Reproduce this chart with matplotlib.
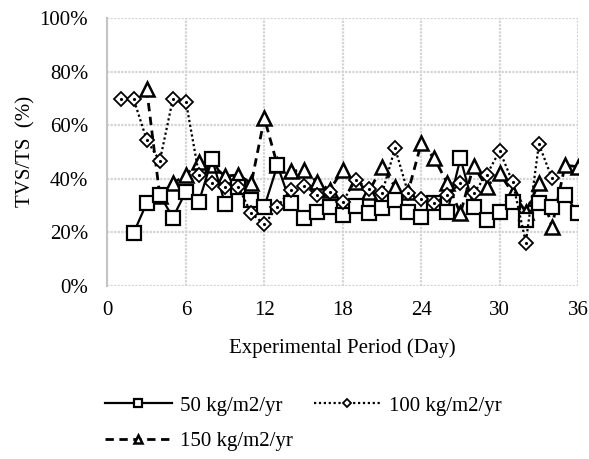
import matplotlib
matplotlib.use("Agg")
import matplotlib.pyplot as plt
from matplotlib.ticker import PercentFormatter

plt.rcParams['font.family'] = ['Liberation Serif', 'DejaVu Serif']

# TVS/TS (%) per day
days_50 = list(range(2, 37))
tvs_50 = [19.8, 30.9, 34, 25.5, 35.2, 31.5, 47.4, 30.5, 37, 32, 29.6, 45,
          31, 25.3, 27.7, 29.6, 26.5, 30, 27.1, 29, 32, 27.7, 25.9,
          30.9, 27.7, 47.6, 29.6, 24.6, 27.7, 31.5, 24.6, 30.9, 29.6, 34, 27.1]

days_100 = list(range(1, 35))
tvs_100 = [69.7, 69.7, 54.5, 46.6, 69.7, 68.8, 41.4, 38.3, 37, 37, 27.1, 23,
           29.6, 35.8, 37.4, 34, 35.2, 31.5, 39.6, 36, 34.6, 51.4, 34.6, 32.3,
           30.9, 34, 38.3, 34.6, 41.4, 50.4, 38.7, 16.2, 52.9, 40.2]

days_150 = list(range(3, 37))
tvs_150 = [73.4, 33.6, 38.3, 41.4, 46.4, 45, 41, 41.4, 38.3, 62.6,
           45, 42.7, 43.3, 38.9, 35.8, 43.3, 38.9, 35.2, 44.5, 37, 35.2, 53.2,
           47.6, 38.3, 27.1, 44.8, 37, 42, 34.6, 27.7, 38.3, 22.1, 45, 44.5]

fig = plt.figure(figsize=(5.89, 4.59), dpi=100)
ax = fig.add_axes([0.1825, 0.377, 0.799, 0.584])

l50, = ax.plot(days_50, tvs_50, color='black', lw=1.6, ls='-', marker='s', ms=9.5,
               mfc='white', mec='black', mew=1.6, label='50 kg/m2/yr', zorder=3)
l100, = ax.plot(days_100, tvs_100, color='black', lw=1.6, ls=(0, (1, 1.2)), marker='D', ms=7,
                mfc='white', mec='black', mew=1.3, label='100 kg/m2/yr', zorder=4)
ax.plot(days_100, tvs_100, ls='none', marker='.', ms=2.5, color='black', zorder=5)
l150, = ax.plot(days_150, tvs_150, color='black', lw=2, ls=(0, (3, 2)), marker='^', ms=9.5,
                mfc='white', mec='black', mew=1.8, label='150 kg/m2/yr', zorder=2)

ax.set_xlim(0, 36)
ax.set_ylim(0, 100)
ax.set_xticks(range(0, 37, 6))
ax.set_yticks(range(0, 101, 20))
ax.yaxis.set_major_formatter(PercentFormatter(decimals=0))
ax.grid(True, color='#d4d4d4', lw=1.6, ls=(0, (1, 0.6)))
ax.set_axisbelow(True)
for s in ['top', 'right', 'bottom']:
    ax.spines[s].set_visible(False)
ax.spines['left'].set_color('#c4c4c4')
ax.spines['left'].set_linewidth(1.5)
ax.tick_params(length=0, labelsize=15)
ax.tick_params(axis='y', pad=14)
ax.tick_params(axis='x', pad=11)

ax.set_xlabel('Experimental Period (Day)', fontsize=15, labelpad=13)
ax.set_ylabel('TVS/TS  (%)', fontsize=15, labelpad=3)

fig.legend([l50, l150, l100], ['50 kg/m2/yr', '150 kg/m2/yr', '100 kg/m2/yr'],
           loc='upper left', bbox_to_anchor=(0.178, 0.137), borderaxespad=0, borderpad=0,
           ncol=2, frameon=False, fontsize=15, handlelength=3.2, markerscale=0.62,
           columnspacing=1.0, labelspacing=0.75, handletextpad=0.4)

fig.savefig('out.png', dpi=100)
